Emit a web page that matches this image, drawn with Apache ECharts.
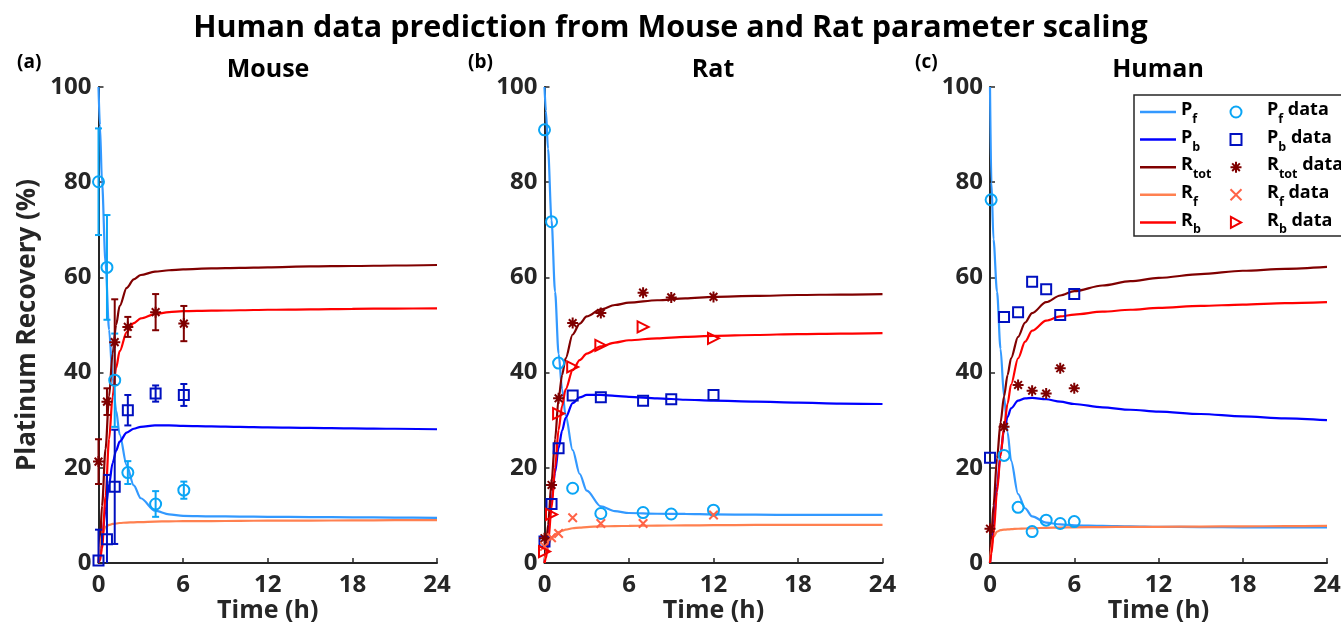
<!DOCTYPE html>
<html><head><meta charset="utf-8">
<script src="https://cdn.jsdelivr.net/npm/echarts@6/dist/echarts.min.js"></script>
<style>html,body{margin:0;padding:0;background:#fff}#c{width:1341px;height:625px}</style>
</head><body><div id="c"></div>
<script>
// ---------- tick labels ----------
const xTicks = [0, 6, 12, 18, 24];
const yTicks = [0, 20, 40, 60, 80, 100];
const panelNames = ['Mouse', 'Rat', 'Human'];
const panelLetters = ['(a)', '(b)', '(c)'];

// ---------- model curves (time grid, h) ----------
const curveT = [0, 0.1, 0.25, 0.5, 0.75, 1, 1.25, 1.5, 2, 2.5, 3, 4, 5, 6, 8, 10, 12, 15, 18, 21, 24];

const mousePfCurve   = [100, 92, 80, 63, 49, 39, 32, 27, 20.5, 16.3, 13.6, 11.0, 10.2, 9.9, 9.8, 9.75, 9.7, 9.65, 9.6, 9.55, 9.5];
const mousePbCurve   = [0, 2, 5.5, 11, 16.5, 21, 23.6, 25.5, 27.4, 28.2, 28.6, 28.9, 28.9, 28.8, 28.7, 28.6, 28.5, 28.4, 28.3, 28.2, 28.1];
const mouseRtotCurve = [0, 4, 12, 24, 35, 44, 50, 54, 57.8, 59.6, 60.5, 61.2, 61.5, 61.7, 61.9, 62.0, 62.1, 62.3, 62.4, 62.5, 62.6];
const mouseRfCurve   = [0, 3.5, 6, 7.6, 8.0, 8.2, 8.3, 8.4, 8.5, 8.55, 8.6, 8.7, 8.75, 8.8, 8.8, 8.85, 8.9, 8.9, 8.95, 9.0, 9.0];
const mouseRbCurve   = [0, 0.5, 3, 14, 26, 35, 41, 44.5, 48.5, 50.4, 51.4, 52.3, 52.7, 52.9, 53.0, 53.1, 53.2, 53.3, 53.4, 53.45, 53.5];

const ratPfCurve   = [100, 95, 87, 72, 57, 44, 36.5, 31, 23.7, 18.7, 15.2, 11.9, 10.9, 10.5, 10.35, 10.3, 10.2, 10.15, 10.1, 10.1, 10.1];
const ratPbCurve   = [0, 2.5, 6.5, 13, 19, 24.2, 27.8, 30.5, 33.6, 34.8, 35.3, 35.3, 35.1, 34.9, 34.6, 34.3, 34.1, 33.9, 33.7, 33.5, 33.4];
const ratRtotCurve = [0, 3, 8, 17, 26, 34.5, 39.5, 43, 48, 50.3, 51.8, 53.3, 54.2, 54.7, 55.2, 55.6, 55.9, 56.1, 56.3, 56.4, 56.5];
const ratRfCurve   = [0, 2, 3.8, 5.2, 6.0, 6.5, 6.8, 7.0, 7.3, 7.45, 7.55, 7.7, 7.75, 7.8, 7.85, 7.9, 7.95, 8.0, 8.0, 8.0, 8.0];
const ratRbCurve   = [0, 1, 4, 11.5, 20, 28, 33, 36.5, 40.5, 42.6, 44.0, 45.5, 46.3, 46.8, 47.2, 47.5, 47.7, 47.9, 48.1, 48.2, 48.3];

const humanPfCurve   = [100, 80, 68, 57, 45, 35, 27.5, 21.5, 14.5, 11.5, 9.8, 8.5, 8.1, 7.9, 7.8, 7.7, 7.6, 7.55, 7.5, 7.5, 7.5];
const humanPbCurve   = [0, 3, 8, 16, 23, 28, 30.7, 32.5, 34.1, 34.6, 34.7, 34.4, 33.9, 33.4, 32.7, 32.2, 31.8, 31.3, 30.8, 30.4, 30.0];
const humanRtotCurve = [0, 6, 12, 22, 29.5, 35, 39.5, 43, 47.5, 50.5, 52.5, 54.8, 56.2, 57.1, 58.3, 59.2, 59.9, 60.7, 61.4, 61.8, 62.2];
const humanRfCurve   = [0, 3.5, 5.5, 6.6, 6.9, 7.0, 7.05, 7.1, 7.2, 7.25, 7.3, 7.4, 7.45, 7.5, 7.55, 7.6, 7.6, 7.65, 7.7, 7.75, 7.8];
const humanRbCurve   = [0, 2, 6, 15, 22.5, 28.5, 33.5, 37.5, 43, 46.5, 48.8, 50.9, 51.8, 52.2, 52.8, 53.2, 53.6, 54.0, 54.3, 54.6, 54.8];

// ---------- measured data ----------
const mouseT        = [0, 0.6, 1.15, 2.08, 4.05, 6.05];
const mousePf       = [80.1, 62.1, 38.4, 19.0, 12.4, 15.3];
const mousePfErr    = [11.2, 11.0, 9.8, 2.4, 2.7, 1.8];
const mousePb       = [0.5, 5.0, 16.0, 32.1, 35.6, 35.3];
const mousePbErr    = [6.5, 13.5, 12.0, 3.2, 1.7, 2.3];
const mouseRtot     = [21.3, 33.9, 46.4, 49.6, 52.7, 50.3];
const mouseRtotErr  = [4.7, 2.8, 9.0, 2.1, 3.8, 3.7];

const ratT    = [0, 0.5, 1, 2, 4, 7, 9, 12];
const ratPf   = [91.0, 71.7, 42.0, 15.7, 10.4, 10.6, 10.3, 11.1];
const ratPb   = [4.5, 12.4, 24.1, 35.2, 34.8, 34.1, 34.4, 35.3];
const ratRtot = [5.2, 16.4, 34.6, 50.4, 52.5, 56.8, 55.8, 55.9];
const ratRfT  = [0, 0.5, 1, 2, 4, 7, 12];
const ratRf   = [3.5, 5.3, 6.2, 9.5, 8.3, 8.3, 10.1];
const ratRbT  = [0, 0.5, 1, 2, 4, 7, 12];
const ratRb   = [2.4, 10.2, 31.4, 41.2, 45.7, 49.6, 47.2];

const humanT    = [0, 1, 2, 3, 4, 5, 6];
const humanPfT  = [0.08, 1, 2, 3, 4, 5, 6];
const humanPf   = [76.3, 22.6, 11.7, 6.6, 9.0, 8.3, 8.7];
const humanPb   = [22.1, 51.7, 52.7, 59.1, 57.5, 52.1, 56.5];
const humanRtot = [7.2, 28.6, 37.4, 36.2, 35.6, 40.9, 36.7];

// ---------- styling ----------
const FONT = '"Open Sans", "Noto Sans", sans-serif';
const AX = '#262626';
const C = {
  Pf: '#3399FF', Pb: '#0000FF', Rtot: '#800000', Rf: '#FF8050', Rb: '#FF0000',
  Pfd: '#0AA5F5', Pbd: '#0010C0', Rtotd: '#7F0000', Rfd: '#FF6347', Rbd: '#F00000'
};
const SYM = {
  circle: 'circle',
  rect: 'path://M0,0L1,0L1,1L0,1Z',
  star: 'path://M0,-1L0,1M-1,0L1,0M-0.7,-0.7L0.7,0.7M-0.7,0.7L0.7,-0.7',
  cross: 'path://M-1,-1L1,1M-1,1L1,-1',
  tri: 'path://M-0.85,-1L1,0L-0.85,1Z'
};
const grids = [
  { left: 98.5, top: 87, width: 338.5, height: 476, outerBoundsMode: 'none', containLabel: false },
  { left: 544.5, top: 87, width: 338, height: 476, outerBoundsMode: 'none', containLabel: false },
  { left: 990, top: 87, width: 337, height: 476, outerBoundsMode: 'none', containLabel: false }
];

function zip(t, v) { return t.map((x, i) => [x, v[i]]); }

function lineS(name, gi, v, color) {
  return {
    type: 'line', name, xAxisIndex: gi, yAxisIndex: gi, data: zip(curveT, v),
    showSymbol: false, symbol: 'none', smooth: 0.3, smoothMonotone: 'x',
    lineStyle: { color, width: 2.2 }, itemStyle: { color }, z: 2, silent: true
  };
}
function scatS(name, gi, t, v, sym, size, color) {
  return {
    type: 'scatter', name, xAxisIndex: gi, yAxisIndex: gi, data: zip(t, v),
    symbol: sym, symbolSize: size, clip: false, z: 5, silent: true,
    itemStyle: { color: 'rgba(0,0,0,0)', borderColor: color, borderWidth: 2, opacity: 1 }
  };
}
function errS(gi, t, v, e, color) {
  return {
    type: 'custom', xAxisIndex: gi, yAxisIndex: gi, silent: true, z: 4,
    data: t.map((x, i) => [x, v[i], e[i]]),
    encode: { x: 0, y: 1 },
    renderItem: function (params, api) {
      const x = api.value(0), y = api.value(1), d = api.value(2);
      const lo = Math.max(0, y - d), hi = Math.min(100, y + d);
      const pt = api.coord([x, hi]), pb = api.coord([x, lo]);
      const w = 3.5;
      const st = { stroke: color, lineWidth: 2 };
      const ch = [
        { type: 'line', shape: { x1: pt[0], y1: pt[1], x2: pb[0], y2: pb[1] }, style: st },
        { type: 'line', shape: { x1: pt[0] - w, y1: pt[1], x2: pt[0] + w, y2: pt[1] }, style: st }
      ];
      if (y - d >= 0) ch.push({ type: 'line', shape: { x1: pb[0] - w, y1: pb[1], x2: pb[0] + w, y2: pb[1] }, style: st });
      return { type: 'group', children: ch };
    }
  };
}

const series = [];
const curves = [
  [mousePfCurve, mousePbCurve, mouseRtotCurve, mouseRfCurve, mouseRbCurve],
  [ratPfCurve, ratPbCurve, ratRtotCurve, ratRfCurve, ratRbCurve],
  [humanPfCurve, humanPbCurve, humanRtotCurve, humanRfCurve, humanRbCurve]
];
curves.forEach((cv, gi) => {
  series.push(lineS('Pf', gi, cv[0], C.Pf));
  series.push(lineS('Pb', gi, cv[1], C.Pb));
  series.push(lineS('Rtot', gi, cv[2], C.Rtot));
  series.push(lineS('Rf', gi, cv[3], C.Rf));
  series.push(lineS('Rb', gi, cv[4], C.Rb));
});
// Mouse data with error bars
series.push(errS(0, mouseT, mousePf, mousePfErr, C.Pfd));
series.push(errS(0, mouseT, mousePb, mousePbErr, C.Pbd));
series.push(errS(0, mouseT, mouseRtot, mouseRtotErr, C.Rtotd));
series.push(scatS('Pf data', 0, mouseT, mousePf, SYM.circle, 11, C.Pfd));
series.push(scatS('Pb data', 0, mouseT, mousePb, SYM.rect, 10, C.Pbd));
series.push(scatS('Rtot data', 0, mouseT, mouseRtot, SYM.star, 11, C.Rtotd));
// Rat
series.push(scatS('Pf data', 1, ratT, ratPf, SYM.circle, 11, C.Pfd));
series.push(scatS('Pb data', 1, ratT, ratPb, SYM.rect, 10, C.Pbd));
series.push(scatS('Rtot data', 1, ratT, ratRtot, SYM.star, 11, C.Rtotd));
series.push(scatS('Rf data', 1, ratRfT, ratRf, SYM.cross, 8.5, C.Rfd));
series.push(scatS('Rb data', 1, ratRbT, ratRb, SYM.tri, 11, C.Rbd));
// Human
series.push(scatS('Pf data', 2, humanPfT, humanPf, SYM.circle, 11, C.Pfd));
series.push(scatS('Pb data', 2, humanT, humanPb, SYM.rect, 10, C.Pbd));
series.push(scatS('Rtot data', 2, humanT, humanRtot, SYM.star, 11, C.Rtotd));

const xAxes = grids.map((g, i) => ({
  gridIndex: i, type: 'value', min: xTicks[0], max: xTicks[xTicks.length - 1], interval: 6,
  axisLine: { show: true, onZero: false, lineStyle: { color: AX, width: 2 } },
  axisTick: { show: true, inside: true, length: 5, lineStyle: { color: AX, width: 1.5 } },
  axisLabel: { color: AX, fontSize: 24, fontWeight: 'bold', fontFamily: FONT, margin: 10,
               formatter: v => xTicks.includes(v) ? String(v) : '' },
  splitLine: { show: false },
  name: 'Time (h)', nameLocation: 'middle', nameGap: 35, nameMoveOverlap: false,
  nameTextStyle: { color: AX, fontSize: 25, fontWeight: 'bold', fontFamily: FONT }
}));
const yAxes = grids.map((g, i) => ({
  gridIndex: i, type: 'value', min: yTicks[0], max: yTicks[yTicks.length - 1], interval: 20,
  axisLine: { show: true, onZero: false, lineStyle: { color: AX, width: 2 } },
  axisTick: { show: true, inside: true, length: 5, lineStyle: { color: AX, width: 1.5 } },
  axisLabel: { color: AX, fontSize: 24, fontWeight: 'bold', fontFamily: FONT, margin: 7,
               formatter: v => yTicks.includes(v) ? String(v) : '' },
  splitLine: { show: false },
  name: i === 0 ? 'Platinum Recovery (%)' : '', nameLocation: 'middle', nameGap: 58, nameMoveOverlap: false,
  nameTextStyle: { color: AX, fontSize: 26, fontWeight: 'bold', fontFamily: FONT }
}));

const subs = { Pf: ['P', 'f'], Pb: ['P', 'b'], Rtot: ['R', 'tot'], Rf: ['R', 'f'], Rb: ['R', 'b'] };
function makeFmt(pad) {
  return function (name) {
    const parts = name.split(' ');
    const s = subs[parts[0]];
    let out = (pad ? '{g|}' : '') + '{m|' + s[0] + '}{s|' + s[1] + '}';
    if (parts[1]) out += '{m| ' + parts[1] + '}';
    return out;
  };
}
const legRich = {
  g: { width: 8, lineHeight: 22 },
  m: { fontSize: 18, fontWeight: 'bold', fontFamily: FONT, color: '#000', lineHeight: 22, verticalAlign: 'top' },
  s: { fontSize: 12.5, fontWeight: 'bold', fontFamily: FONT, color: '#000', lineHeight: 14, padding: [12, 0, 0, 0], verticalAlign: 'top' }
};

const graphics = [
  { type: 'rect', shape: { x: 1134, y: 95, width: 230, height: 141 },
    style: { fill: '#fff', stroke: AX, lineWidth: 1.5 }, z: 3, silent: true }
];
const subX = [268, 713, 1158];
const letX = [17, 468, 915];
panelNames.forEach((n, i) => {
  graphics.push({ type: 'text', x: subX[i], y: 70, z: 5, silent: true,
    style: { text: n, fill: '#000', font: 'bold 25px ' + FONT, align: 'center', verticalAlign: 'middle' } });
  graphics.push({ type: 'text', x: letX[i], y: 63, z: 5, silent: true,
    style: { text: panelLetters[i], fill: '#000', font: 'bold 19px ' + FONT, align: 'left', verticalAlign: 'middle' } });
});

const option = {
  backgroundColor: '#fff',
  animation: false,
  title: {
    text: 'Human data prediction from Mouse and Rat parameter scaling',
    left: 'center', top: 8,
    textStyle: { fontSize: 30.5, fontWeight: 'bold', fontFamily: FONT, color: '#000' }
  },
  grid: grids,
  xAxis: xAxes,
  yAxis: yAxes,
  legend: [
    { data: ['Pf', 'Pb', 'Rtot', 'Rf', 'Rb'], orient: 'vertical', left: 1140, top: 101,
      icon: 'rect', itemWidth: 36, itemHeight: 2.5, itemGap: 2.6, padding: 0, selectedMode: false, z: 6,
      formatter: makeFmt(false), textStyle: { rich: legRich } },
    { data: ['Pf data', 'Pb data', 'Rtot data', 'Rf data', 'Rb data'], orient: 'vertical', left: 1229.5, top: 101,
      itemWidth: 36, itemHeight: 11, itemGap: 2.6, padding: 0, selectedMode: false, z: 6,
      formatter: makeFmt(true), textStyle: { rich: legRich } }
  ],
  graphic: graphics,
  series: series
};
echarts.init(document.getElementById('c'), null, { renderer: 'canvas' }).setOption(option);
</script>
</body></html>
